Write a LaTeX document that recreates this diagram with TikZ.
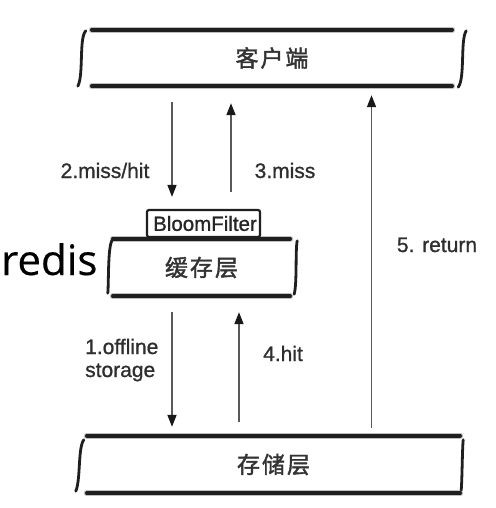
\documentclass[tikz,border=0pt]{standalone}
\usepackage{fontspec}
\setmainfont{Liberation Sans}
\newfontfamily\lblfont[FakeBold=0.9]{Liberation Sans}
\newfontfamily\cjk[FakeBold=1.6]{Noto Sans CJK SC}
\newfontfamily\rfont[FakeBold=0.4]{Open Sans}
\usetikzlibrary{arrows.meta}
\tikzset{
  layer/.style={minimum width=#1, minimum height=57pt, inner sep=0pt, font=\cjk\fontsize{23}{26}\selectfont, text=black!80},
  halo/.style={line width=6pt, draw=black!25, line cap=round},
  edge/.style={line width=3.6pt, draw=black!88, line cap=round},
  brk/.style={line width=2.8pt, draw=black!88, line cap=round},
  arr/.style={line width=1.6pt, draw=black!65, -{Triangle[length=12pt,width=9pt,color=black!90]}},
  lbl/.style={font=\lblfont\fontsize{21}{23}\selectfont, text=black!82, inner sep=0pt},
}
\newcommand{\cjkspread}[3]{#1\hspace{2pt}#2\hspace{2pt}#3}
\begin{document}
\begin{tikzpicture}[x=1pt,y=-1pt]
\useasboundingbox[fill=white] (0,0) rectangle (495,508);

% layers
\node[layer=360pt, minimum height=56pt] (client) at (272,58) {\cjkspread{客}{户}{端}};
\node[layer=177pt] (cache) at (201.5,267.5) {\cjkspread{缓}{存}{层}};
\node[layer=373pt] (store) at (273.5,464.5) {\cjkspread{存}{储}{层}};

% horizontal edges (halo then line)
\foreach \n in {client,cache,store}{
  \draw[halo] (\n.north west) -- (\n.north east);
  \draw[halo] (\n.south west) -- (\n.south east);
  \draw[edge] (\n.north west) -- (\n.north east);
  \draw[edge] (\n.south west) -- (\n.south east);
}

% brackets client
\draw[brk] ([shift={(-6,1)}]client.north west) .. controls +(-7,7) and +(6,-11) .. ([shift={(-14,0)}]client.south west);
\draw[brk] ([shift={(14,1)}]client.north east) .. controls +(-6,9) and +(7,-9) .. ([shift={(6,1)}]client.south east);
% brackets cache
\draw[brk] ([shift={(-1,2)}]cache.north west) .. controls +(-4,8) and +(1,-12) .. ([shift={(-5,-3)}]cache.south west);
\draw[brk] ([shift={(7,2)}]cache.north east) .. controls +(-2,10) and +(3,-12) .. ([shift={(4,-2)}]cache.south east);
% brackets store
\draw[brk] ([shift={(-3,4)}]store.north west) .. controls +(-6,8) and +(5,-12) .. ([shift={(-11,-2)}]store.south west);
\draw[brk] ([shift={(3,4)}]store.north east) .. controls +(-1,10) and +(1,-12) .. ([shift={(1,-3)}]store.south east);

% BloomFilter
\node[draw=black!88, line width=2.2pt, rounded corners=2pt, minimum width=113pt, minimum height=27pt, inner sep=0pt,
      font=\lblfont\fontsize{20.5}{22}\selectfont, text=black!85] (bloom) at (203.5,223.5) {\hspace*{3pt}BloomFilter};

% redis
\node[font=\rfont\fontsize{42}{44}\selectfont, anchor=base west, inner sep=0pt] (redis) at (1,275) {redis};

% arrows
\draw[arr, shorten <=16pt, shorten >=12pt] (172,0 |- client.south) -- (172,0 |- bloom.north);
\draw[arr, shorten <=17pt, shorten >=17pt] (231,0 |- bloom.north) -- (231,0 |- client.south);
\draw[arr, shorten <=16pt, shorten >=9pt] (172,0 |- cache.south) -- (172,0 |- store.north);
\draw[arr, shorten <=14pt, shorten >=16pt] (239,0 |- store.north) -- (239,0 |- cache.south);
\draw[arr, shorten <=8pt, shorten >=9pt] (371.5,0 |- store.north) -- (371.5,0 |- client.south);

% labels
\node[lbl, anchor=base] (l2) at (105,178) {2.miss/hit};
\node[lbl, anchor=base] (l3) at (285,178) {3.miss};
\node[lbl, anchor=base west, align=left] (l1) at (85,377) {1.offline\\storage};
\node[lbl, anchor=base] (l4) at (283,361) {4.hit};
\node[lbl, anchor=base] (l5) at (437,252) {5. return};
\end{tikzpicture}
\end{document}
